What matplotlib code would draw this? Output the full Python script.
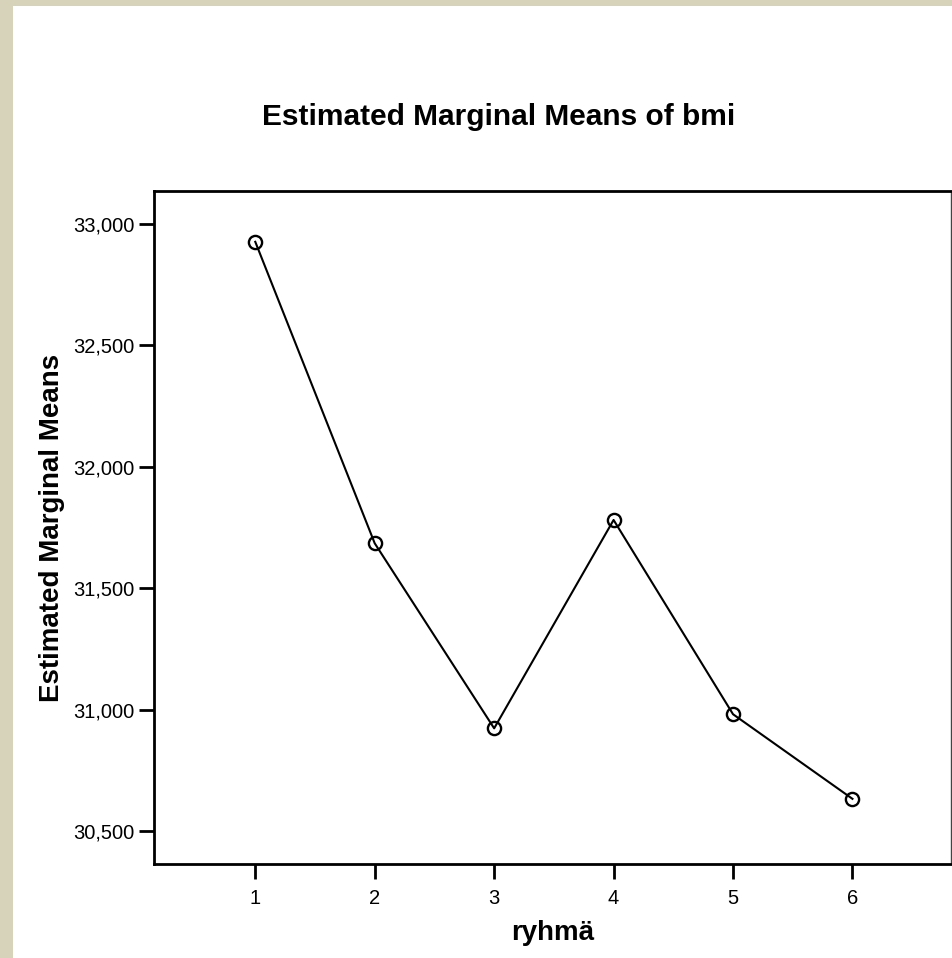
import matplotlib
matplotlib.use("Agg")
import matplotlib.pyplot as plt
from matplotlib.patches import Rectangle

plt.rcParams['font.family'] = ['Liberation Sans', 'DejaVu Sans']

# 数据
groups = [1, 2, 3, 4, 5, 6]
means = [32925, 31685, 30924, 31781, 30982, 30634]
yticks = [30500, 31000, 31500, 32000, 32500, 33000]
ytick_labels = ["30,500", "31,000", "31,500", "32,000", "32,500", "33,000"]

fig = plt.figure(figsize=(9.53, 9.58), dpi=100)
fig.patch.set_facecolor("white")

# 左侧和顶部的米色边框
bg = "#d7d3ba"
fig.patches.append(Rectangle((0, 0), 13 / 953, 1, transform=fig.transFigure,
                             facecolor=bg, edgecolor="none", zorder=0))
fig.patches.append(Rectangle((0, 1 - 6 / 958), 1, 6 / 958, transform=fig.transFigure,
                             facecolor=bg, edgecolor="none", zorder=0))

ax = fig.add_axes([154 / 953, 1 - 864 / 958, (951 - 154) / 953, (864 - 191) / 958])
ax.plot(groups, means, color="black", linewidth=1.5, marker="o", markersize=9.5,
        markerfacecolor="none", markeredgecolor="black", markeredgewidth=1.7)

ax.set_xlim(0.152, 6.825)
ax.set_ylim(30366, 33134)
ax.set_xticks(groups)
ax.set_xticklabels([str(g) for g in groups])
ax.set_yticks(yticks)
ax.set_yticklabels(ytick_labels)

ax.tick_params(axis="both", direction="out", length=11, width=2, labelsize=14.5,
               top=False, right=False)
ax.tick_params(axis="y", pad=3)
ax.tick_params(axis="x", pad=7)
for side in ["left", "bottom", "top"]:
    ax.spines[side].set_linewidth(2)
ax.spines["right"].set_linewidth(1)
ax.spines["right"].set_color("#444444")

ax.set_xlabel("ryhmä", fontsize=20, fontweight="bold", labelpad=9)
ax.set_ylabel("Estimated Marginal Means", fontsize=20, fontweight="bold", labelpad=6)
fig.text(499 / 953, 1 - 117 / 958, "Estimated Marginal Means of bmi", fontsize=21.5,
         fontweight="bold", ha="center", va="center")

fig.savefig("out.png", dpi=100)
